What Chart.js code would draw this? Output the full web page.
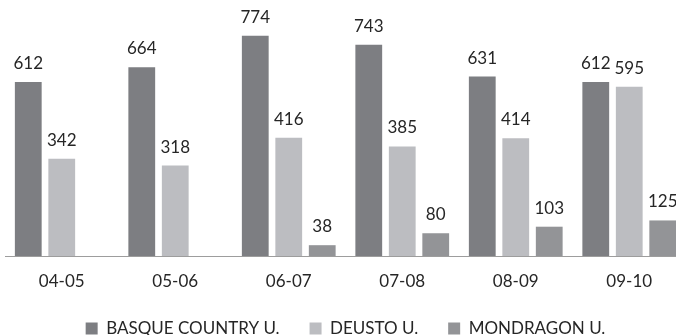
<!DOCTYPE html>
<html>
<head>
<meta charset="utf-8">
<script src="https://cdn.jsdelivr.net/npm/chart.js@4/dist/chart.umd.min.js"></script>
<style>
  html, body { margin: 0; padding: 0; background: #fff; overflow: hidden; }
  #wrap { position: relative; width: 691px; height: 335px; }
</style>
</head>
<body>
<div id="wrap"><canvas id="uniChart"></canvas></div>
<script>
// ========= DATA =========
const seasons = ['04-05', '05-06', '06-07', '07-08', '08-09', '09-10'];
const basque = [612, 664, 774, 743, 631, 612];
const deusto = [342, 318, 416, 385, 414, 595];
const mondragon = [null, null, 38, 80, 103, 125];
const seriesNames = ['BASQUE COUNTRY U.', 'DEUSTO U.', 'MONDRAGON U.'];

const FONT = 'Lato, "Open Sans", sans-serif';

// value labels above each bar
const barValues = {
    id: 'barValues',
    afterDatasetsDraw(chart) {
        const ctx = chart.ctx;
        ctx.save();
        ctx.font = '17px ' + FONT;
        ctx.fillStyle = '#262626';
        ctx.textAlign = 'center';
        ctx.textBaseline = 'alphabetic';
        chart.data.datasets.forEach((ds, i) => {
            chart.getDatasetMeta(i).data.forEach((bar, j) => {
                const v = ds.data[j];
                if (v === null || v === undefined) return;
                ctx.fillText(String(v), bar.x, bar.y - 13);
            });
        });
        ctx.restore();
    }
};

document.addEventListener('DOMContentLoaded', function () {
    const ctx = document.getElementById('uniChart').getContext('2d');
    new Chart(ctx, {
        type: 'bar',
        data: {
            labels: seasons,
            datasets: [{
                label: seriesNames[0],
                data: basque,
                backgroundColor: '#7d7e82'
            }, {
                label: seriesNames[1],
                data: deusto,
                backgroundColor: '#bcbdc1'
            }, {
                label: seriesNames[2],
                data: mondragon,
                backgroundColor: '#939497'
            }]
        },
        options: {
            responsive: true,
            maintainAspectRatio: false,
            animation: false,
            categoryPercentage: 0.885,
            barPercentage: 0.8,
            layout: { padding: { left: 5, right: 5, top: 0, bottom: 0 } },
            plugins: {
                tooltip: { enabled: false },
                legend: {
                    position: 'bottom',
                    maxHeight: 45,
                    labels: {
                        font: { family: FONT, size: 17 },
                        color: '#262626',
                        boxWidth: 12,
                        boxHeight: 12,
                        padding: 30
                    }
                }
            },
            scales: {
                x: {
                    grid: { display: false },
                    border: { display: true, color: '#9d9d9d', width: 1 },
                    ticks: {
                        font: { family: FONT, size: 17, lineHeight: 1 },
                        color: '#262626',
                        padding: 9.5
                    },
                    afterFit(scale) {
                        scale.height = 34;
                    }
                },
                y: {
                    display: false,
                    min: 0,
                    max: 900
                }
            }
        },
        plugins: [barValues]
    });
});
</script>
</body>
</html>
